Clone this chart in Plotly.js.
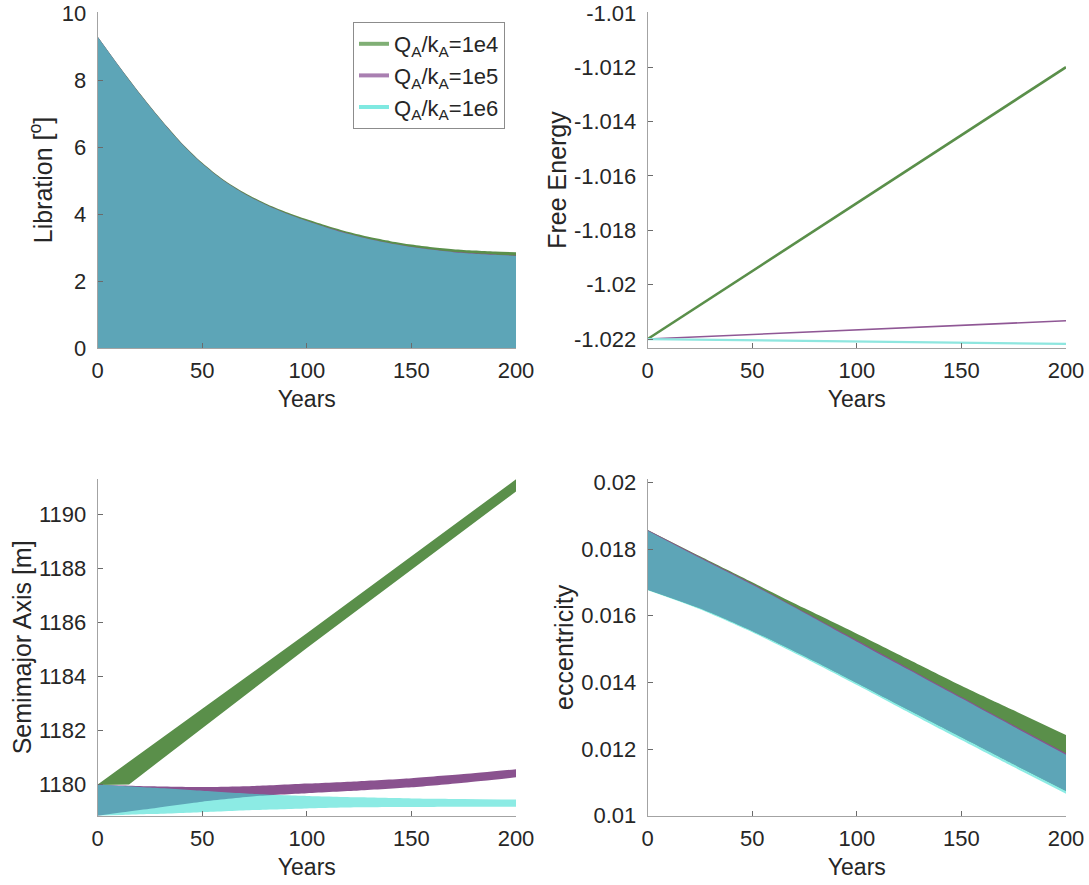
<!DOCTYPE html>
<html>
<head>
<meta charset="utf-8">
<script src="https://cdn.plot.ly/plotly-3.0.1.min.js"></script>
<style>html,body{margin:0;padding:0;background:#fff;}#chart{width:1089px;height:885px;}</style>
</head>
<body>
<div id="chart"></div>
<script>
// ---------- Data ----------
var seriesNames = ['Q<sub>A</sub>/k<sub>A</sub>=1e4', 'Q<sub>A</sub>/k<sub>A</sub>=1e5', 'Q<sub>A</sub>/k<sub>A</sub>=1e6'];

// Libration envelope (upper edge of the oscillation band; lower edge is 0)
var libYears = [0,10,20,30,40,50,60,70,80,90,100,110,120,130,140,150,160,170,180,190,200];
var libUpper1e4 = [9.29,8.43,7.61,6.84,6.13,5.53,5.03,4.64,4.32,4.06,3.84,3.64,3.46,3.31,3.19,3.09,3.01,2.95,2.91,2.88,2.86];
var libUpper1e5 = [9.29,8.425,7.60,6.83,6.115,5.51,5.01,4.615,4.29,4.025,3.80,3.595,3.41,3.255,3.13,3.025,2.94,2.87,2.825,2.79,2.76];
var libUpper1e6 = [9.28,8.415,7.59,6.82,6.105,5.50,5.00,4.605,4.28,4.015,3.79,3.585,3.40,3.245,3.12,3.015,2.93,2.86,2.815,2.78,2.75];

// Free energy
var feYears = [0,50,100,150,200];
var fe1e4 = [-1.022,-1.0195,-1.0170,-1.0145,-1.0120];
var fe1e5 = [-1.022,-1.02183,-1.02166,-1.0215,-1.02133];
var fe1e6 = [-1.022,-1.02205,-1.0221,-1.02214,-1.02218];

// Semimajor axis envelopes
var saYears1e4 = [0,15,50,100,150,200];
var saUpper1e4 = [1180.0,1180.85,1182.8,1185.6,1188.45,1191.3];
var saLower1e4 = [1179.98,1180.0,1182.08,1185.05,1187.95,1190.85];
var saYears = [0,12,25,50,75,100,125,150,175,200];
var saUpper1e5 = [1180.0,1179.96,1179.93,1179.9,1179.94,1180.03,1180.12,1180.23,1180.38,1180.56];
var saLower1e5 = [1178.84,1178.97,1179.1,1179.36,1179.56,1179.67,1179.77,1179.89,1180.06,1180.26];
var saUpper1e6 = [1180.0,1179.94,1179.88,1179.76,1179.64,1179.57,1179.52,1179.48,1179.46,1179.44];
var saLower1e6 = [1178.84,1178.87,1178.9,1178.97,1179.05,1179.11,1179.15,1179.16,1179.17,1179.17];

// Eccentricity envelopes
var ecYears = [0,25,50,75,100,125,150,175,200];
var ecUpper1e4 = [0.01857,0.01778,0.01700,0.01622,0.01546,0.01468,0.01390,0.01316,0.01242];
var ecLower1e4 = [0.01678,0.01622,0.01554,0.01478,0.01398,0.01316,0.01235,0.01154,0.01074];
var ecUpper1e5 = [0.01857,0.01776,0.01696,0.01611,0.01526,0.01441,0.01356,0.01271,0.01187];
var ecLower1e5 = [0.01678,0.01622,0.01554,0.01478,0.01398,0.01316,0.01235,0.01154,0.01074];
var ecUpper1e6 = [0.01855,0.01773,0.01693,0.01608,0.01522,0.01437,0.01352,0.01267,0.01183];
var ecLower1e6 = [0.01676,0.01619,0.01550,0.01473,0.01392,0.01309,0.01227,0.01146,0.01066];

// Tick labels
var xTickVals = [0,50,100,150,200];
var libTickVals = [0,2,4,6,8,10];
var feTickVals = [-1.022,-1.02,-1.018,-1.016,-1.014,-1.012,-1.01];
var feTickText = ['-1.022','-1.02','-1.018','-1.016','-1.014','-1.012','-1.01'];
var saTickVals = [1180,1182,1184,1186,1188,1190];
var ecTickVals = [0.01,0.012,0.014,0.016,0.018,0.02];
var ecTickText = ['0.01','0.012','0.014','0.016','0.018','0.02'];

// ---------- Styles ----------
var FONT = 'Liberation Sans, Arial, Helvetica, sans-serif';
var fillGreen = '#5a8f4a';
var fillPurple = '#8a528f';
var fillCyan = 'rgba(64,222,210,0.6)';
var legendColors = ['#80af75', '#a97fb1', '#7fe9e1'];

function bandZero(xs, up, color, xa, ya) {
  return {x: xs, y: up, xaxis: xa, yaxis: ya, type: 'scatter', mode: 'lines',
          line: {width: 0, color: color, shape: 'spline', smoothing: 0.8},
          fill: 'tozeroy', fillcolor: color, showlegend: false, hoverinfo: 'skip'};
}
function band(xs, up, lo, color, xa, ya, shape) {
  var ln = {width: 0, color: color, shape: shape || 'spline'};
  if (ln.shape === 'spline') ln.smoothing = 0.7;
  return [
    {x: xs, y: lo, xaxis: xa, yaxis: ya, type: 'scatter', mode: 'lines',
     line: ln, showlegend: false, hoverinfo: 'skip'},
    {x: xs, y: up, xaxis: xa, yaxis: ya, type: 'scatter', mode: 'lines',
     line: ln, fill: 'tonexty', fillcolor: color, showlegend: false, hoverinfo: 'skip'}
  ];
}
function line(xs, ys, color, w, xa, ya) {
  return {x: xs, y: ys, xaxis: xa, yaxis: ya, type: 'scatter', mode: 'lines',
          line: {width: w, color: color}, showlegend: false, hoverinfo: 'skip'};
}

var traces = [];
// Libration
traces.push(bandZero(libYears, libUpper1e4, fillGreen, 'x', 'y'));
traces.push(bandZero(libYears, libUpper1e5, fillPurple, 'x', 'y'));
traces.push(bandZero(libYears, libUpper1e6, fillCyan, 'x', 'y'));
// Free energy
traces.push(line(feYears, fe1e4, '#5a8f4a', 2.6, 'x2', 'y2'));
traces.push(line(feYears, fe1e5, '#8f5795', 1.6, 'x2', 'y2'));
traces.push(line(feYears, fe1e6, '#8ee6df', 2.2, 'x2', 'y2'));
// Semimajor axis
traces = traces.concat(band(saYears1e4, saUpper1e4, saLower1e4, fillGreen, 'x3', 'y3', 'linear'));
traces = traces.concat(band(saYears, saUpper1e5, saLower1e5, fillPurple, 'x3', 'y3'));
traces = traces.concat(band(saYears, saUpper1e6, saLower1e6, fillCyan, 'x3', 'y3'));
// Eccentricity
traces = traces.concat(band(ecYears, ecUpper1e4, ecLower1e4, fillGreen, 'x4', 'y4'));
traces = traces.concat(band(ecYears, ecUpper1e5, ecLower1e5, fillPurple, 'x4', 'y4'));
traces = traces.concat(band(ecYears, ecUpper1e6, ecLower1e6, fillCyan, 'x4', 'y4'));
// Legend entries
for (var i = 0; i < seriesNames.length; i++) {
  traces.push({x: [null], y: [null], xaxis: 'x', yaxis: 'y', type: 'scatter', mode: 'lines',
               name: seriesNames[i], line: {width: 4, color: legendColors[i]}, showlegend: true});
}

var W = 1089, H = 885;
var xL = [97.7 / W, 516 / W];
var xR = [647.7 / W, 1066 / W];
var yT = [1 - 348 / H, 1 - 12 / H];
var yB = [1 - 815.7 / H, 1 - 479 / H];

function xax(domain, anchor) {
  return {domain: domain, anchor: anchor, range: [0, 200], tickvals: xTickVals,
          showline: true, linecolor: '#a3a3a3', linewidth: 1, mirror: false,
          ticks: 'inside', ticklen: 5, tickcolor: '#6b6b6b', showgrid: false, zeroline: false,
          tickfont: {family: FONT, size: 22, color: '#262626'}, ticklabelstandoff: 3,
          title: {text: 'Years', font: {family: FONT, size: 23, color: '#262626'}, standoff: 8}};
}
function yax(domain, anchor, range, tv, tt, title, standoff) {
  var a = {domain: domain, anchor: anchor, range: range, tickvals: tv,
          showline: true, linecolor: '#a3a3a3', linewidth: 1, mirror: false,
          ticks: 'inside', ticklen: 5, tickcolor: '#6b6b6b', showgrid: false, zeroline: false,
          tickfont: {family: FONT, size: 22, color: '#262626'}, ticklabelstandoff: 6,
          title: {text: title, font: {family: FONT, size: 25, color: '#262626'}, standoff: standoff}};
  if (tt) a.ticktext = tt;
  return a;
}

var layout = {
  width: W, height: H,
  margin: {l: 0, r: 0, t: 0, b: 0},
  paper_bgcolor: '#ffffff', plot_bgcolor: 'rgba(0,0,0,0)',
  font: {family: FONT, color: '#262626'},
  xaxis: xax(xL, 'y'),
  yaxis: yax(yT, 'x', [0, 10.03], libTickVals, null, 'Libration [<sup>o</sup>]', 2),
  xaxis2: xax(xR, 'y2'),
  yaxis2: yax(yT, 'x2', [-1.02233, -1.00997], feTickVals, feTickText, 'Free Energy', 0),
  xaxis3: xax(xL, 'y3'),
  yaxis3: yax(yB, 'x3', [1178.84, 1191.31], saTickVals, null, 'Semimajor Axis [m]', 0),
  xaxis4: xax(xR, 'y4'),
  yaxis4: yax(yB, 'x4', [0.01, 0.0201], ecTickVals, ecTickText, 'eccentricity', 0),
  showlegend: true,
  legend: {x: 353 / W, y: 1 - 22 / H, xanchor: 'left', yanchor: 'top', traceorder: 'normal',
           bgcolor: '#ffffff', bordercolor: '#8c8c8c', borderwidth: 1,
           font: {family: FONT, size: 22, color: '#262626'}, tracegroupgap: 0}
};

Plotly.newPlot('chart', traces, layout, {staticPlot: true, displayModeBar: false});
</script>
</body>
</html>
